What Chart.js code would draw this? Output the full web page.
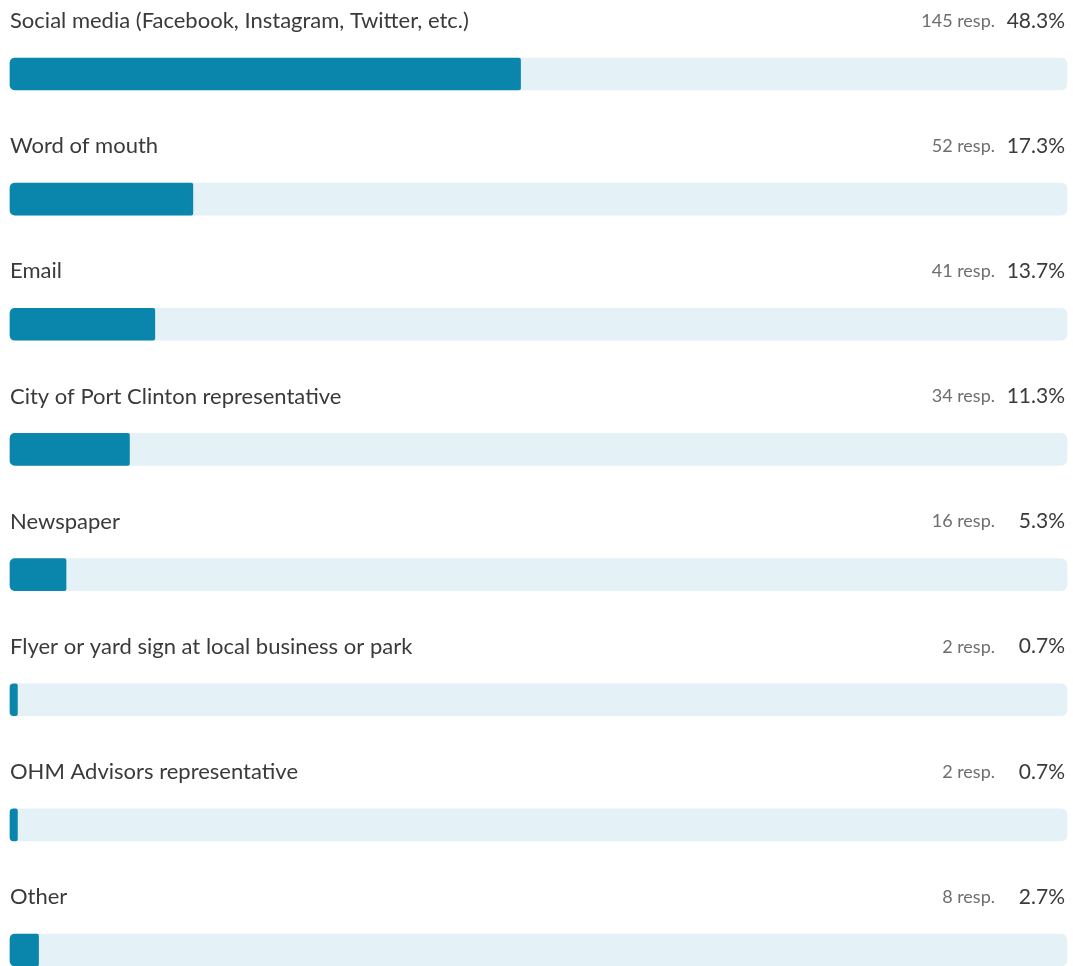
<!DOCTYPE html>
<html>
<head>
<meta charset="utf-8">
<script src="https://cdn.jsdelivr.net/npm/chart.js@4"></script>
<style>
  html, body { margin: 0; padding: 0; background: #fff; overflow: hidden; }
  #wrap { width: 1073px; height: 966px; position: relative; }
</style>
</head>
<body>
<div id="wrap"><canvas id="pollChart"></canvas></div>
<script>
const answers = [
  'Social media (Facebook, Instagram, Twitter, etc.)',
  'Word of mouth',
  'Email',
  'City of Port Clinton representative',
  'Newspaper',
  'Flyer or yard sign at local business or park',
  'OHM Advisors representative',
  'Other'
];
const responses = [145, 52, 41, 34, 16, 2, 2, 8];
const percents = [48.3, 17.3, 13.7, 11.3, 5.3, 0.7, 0.7, 2.7];
const fullTrack = answers.map(() => 100);

const FONT = 'Lato, "Noto Sans", sans-serif';

// draws question text above each bar + counts on the right
const rowText = {
  id: 'rowText',
  afterDatasetsDraw(chart) {
    const ctx = chart.ctx;
    const area = chart.chartArea;
    const yScale = chart.scales.y;
    ctx.save();
    ctx.textBaseline = 'middle';
    answers.forEach((name, i) => {
      const y = yScale.getPixelForValue(i) - 53;
      ctx.font = '22px ' + FONT;
      ctx.fillStyle = '#3a3a3a';
      ctx.textAlign = 'left';
      ctx.fillText(name, area.left, y);

      ctx.textAlign = 'right';
      ctx.font = '21px ' + FONT;
      ctx.fillText(percents[i].toFixed(1) + '%', area.right - 2, y);

      ctx.font = '18px ' + FONT;
      ctx.fillStyle = '#6e6e6e';
      ctx.fillText(responses[i] + ' resp.', area.right - 72, y);
    });
    ctx.restore();
  }
};

const ctxPoll = document.getElementById('pollChart').getContext('2d');
const pollChart = new Chart(ctxPoll, {
  type: 'bar',
  data: {
    labels: answers,
    datasets: [
      {
        label: 'Percent',
        data: percents,
        backgroundColor: '#0a86ad',
        barThickness: 32,
        borderSkipped: false,
        borderRadius: { topLeft: 5, bottomLeft: 5, topRight: 2, bottomRight: 2 },
        grouped: false,
        clip: false,
        order: 0
      },
      {
        label: 'Track',
        data: fullTrack,
        backgroundColor: '#e4f1f6',
        barThickness: 32,
        borderSkipped: false,
        borderRadius: 6,
        grouped: false,
        clip: false,
        order: 1
      }
    ]
  },
  options: {
    indexAxis: 'y',
    responsive: true,
    maintainAspectRatio: false,
    animation: false,
    layout: { padding: { left: 10, right: 6, top: 74, bottom: 16 } },
    plugins: {
      legend: { display: false },
      tooltip: { enabled: false }
    },
    scales: {
      x: { display: false, min: 0, max: 100 },
      y: { display: false, offset: false }
    }
  },
  plugins: [rowText]
});
</script>
</body>
</html>
